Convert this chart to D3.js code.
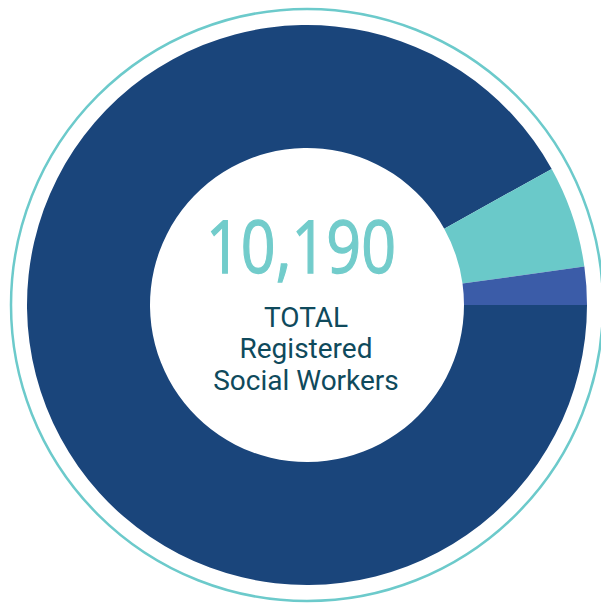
<!DOCTYPE html>
<html>
<head>
<meta charset="utf-8">
<script src="https://cdn.jsdelivr.net/npm/d3@7"></script>
<style>
  html, body { margin: 0; padding: 0; background: #ffffff; }
  svg { display: block; }
</style>
</head>
<body>
<svg id="chart" width="601" height="603"></svg>
<script>
// Data
const categories = ["Group A", "Group B", "Group C"];
const values = [9367, 600, 223];
const colors = ["#1a457b", "#6ac9c9", "#3b5ca8"];
const totalLabel = "10,190";
const subLabels = ["TOTAL", "Registered", "Social Workers"];

const svg = d3.select("#chart");
const cx = 307, cy = 305;
const outerR = 280, innerR = 157, ringR = 296;

const g = svg.append("g").attr("transform", `translate(${cx},${cy})`);

g.append("circle")
  .attr("r", ringR)
  .attr("fill", "none")
  .attr("stroke", "#6ccacb")
  .attr("stroke-width", 2.5);

const pie = d3.pie()
  .sort(null)
  .value(d => d.value)
  .startAngle(Math.PI / 2)
  .endAngle(Math.PI / 2 + 2 * Math.PI);

const arc = d3.arc().innerRadius(innerR).outerRadius(outerR);

const data = categories.map((c, i) => ({ name: c, value: values[i], color: colors[i] }));

g.selectAll("path.slice")
  .data(pie(data))
  .join("path")
  .attr("class", "slice")
  .attr("d", arc)
  .attr("fill", d => d.data.color);

const big = g.append("text")
  .attr("x", -6)
  .attr("y", -32)
  .attr("text-anchor", "middle")
  .attr("font-family", "'Open Sans', sans-serif")
  .attr("font-size", 73)
  .attr("fill", "#72cccb")
  .attr("stroke", "#72cccb")
  .attr("stroke-width", 1.3)
  .text(totalLabel);
big.attr("textLength", 190).attr("lengthAdjust", "spacingAndGlyphs");

const lineY = [22, 53, 85];
g.selectAll("text.sub")
  .data(subLabels)
  .join("text")
  .attr("class", "sub")
  .attr("x", -1)
  .attr("y", (d, i) => lineY[i])
  .attr("text-anchor", "middle")
  .attr("font-family", "Roboto, sans-serif")
  .attr("font-size", 28)
  .attr("fill", "#0f4a5c")
  .text(d => d);
</script>
</body>
</html>
